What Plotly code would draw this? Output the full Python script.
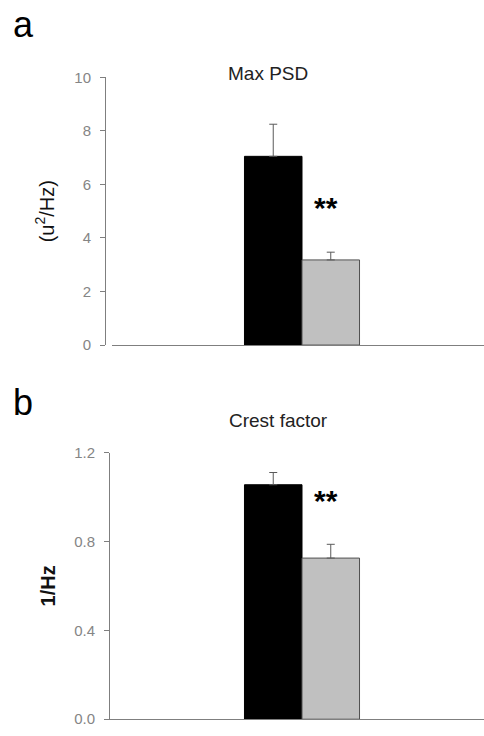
import plotly.graph_objects as go

# ---- data ----
groups = ["Control", "Treated"]
bar_colors = ["#000000", "#c0c0c0"]

psd_values = [7.05, 3.18]
psd_errors = [1.20, 0.29]

crest_values = [1.055, 0.725]
crest_errors = [0.055, 0.062]

psd_ticks = [0, 2, 4, 6, 8, 10]
crest_ticks = [0.0, 0.4, 0.8, 1.2]
crest_ticklabels = ["0.0", "0.4", "0.8", "1.2"]

FONT = "Liberation Sans, Arial, sans-serif"
AXIS_GRAY = "#7f7f7f"
TICK_GRAY = "#858585"

W, H = 484, 736

fig = go.Figure()

for i, g in enumerate(groups):
    common = dict(
        x=[0],
        marker=dict(color=bar_colors[i], line=dict(color="#505050" if i else "#000000", width=1)),
        name=g, showlegend=False, offsetgroup=str(i),
    )
    fig.add_trace(go.Bar(
        y=[psd_values[i]],
        error_y=dict(type="data", symmetric=False, array=[psd_errors[i]], arrayminus=[0],
                     color="#5a5a5a", thickness=1, width=4),
        xaxis="x", yaxis="y", **common))
    fig.add_trace(go.Bar(
        y=[crest_values[i]],
        error_y=dict(type="data", symmetric=False, array=[crest_errors[i]], arrayminus=[0],
                     color="#5a5a5a", thickness=1, width=4),
        xaxis="x2", yaxis="y2", **common))

px_per_unit = 394.0
center_px = 302.0

def xr(left_px):
    return [-(center_px - left_px) / px_per_unit, (W - center_px) / px_per_unit]

axis_common = dict(showline=True, linecolor=AXIS_GRAY, linewidth=1, showgrid=False,
                   zeroline=False)

fig.update_layout(
    width=W, height=H,
    margin=dict(l=0, r=0, t=0, b=0),
    paper_bgcolor="white", plot_bgcolor="white",
    barmode="group", bargap=0.708, bargroupgap=0,
    font=dict(family=FONT, color="#000000"),
    xaxis=dict(domain=[112 / W, 1], range=xr(112), showticklabels=False, ticks="",
               anchor="y", **axis_common),
    yaxis=dict(domain=[1 - 344 / H, 1 - 70 / H], range=[0, 10], anchor="free",
               position=105 / W, tickvals=psd_ticks, ticks="outside", ticklen=5,
               ticklabelstandoff=6,
               tickcolor=AXIS_GRAY, tickfont=dict(size=15, color=TICK_GRAY, family=FONT),
               title=dict(text="(u<sup>2</sup>/Hz)", font=dict(size=20, color="#111111"),
                          standoff=13),
               **axis_common),
    xaxis2=dict(domain=[110 / W, 1], range=xr(110), showticklabels=False, ticks="",
                anchor="y2", **axis_common),
    yaxis2=dict(domain=[1 - 727 / H, 1 - 454 / H], range=[0, 1.2], anchor="x2",
                tickvals=crest_ticks, ticktext=crest_ticklabels, ticks="outside", ticklen=5,
                ticklabelstandoff=6,
                tickcolor=AXIS_GRAY, tickfont=dict(size=15, color=TICK_GRAY, family=FONT),
                title=dict(text="<b>1/Hz</b>", font=dict(size=20, color="#111111"),
                           standoff=13),
                **axis_common),
)

annotations = [
    dict(text="a", x=23 / W, y=1 - 16 / H, font=dict(size=36, color="#000000")),
    dict(text="b", x=23 / W, y=1 - 403 / H, font=dict(size=36, color="#000000")),
    dict(text="Max PSD", x=268 / W, y=1 - 66 / H, font=dict(size=19, color="#222222")),
    dict(text="Crest factor", x=278 / W, y=1 - 421 / H, font=dict(size=19, color="#222222")),
]
for a in annotations:
    fig.add_annotation(xref="paper", yref="paper", showarrow=False,
                       xanchor="center", yanchor="middle", **a)

fig.add_annotation(text="<b>**</b>", x=0.061, y=5.15, xref="x", yref="y", showarrow=False,
                   font=dict(size=30, color="#000000"))
fig.add_annotation(text="<b>**</b>", x=0.061, y=0.985, xref="x2", yref="y2", showarrow=False,
                   font=dict(size=30, color="#000000"))

fig.write_html("out.html", config={"displayModeBar": False},
               post_script="document.body.style.margin='0px';")
